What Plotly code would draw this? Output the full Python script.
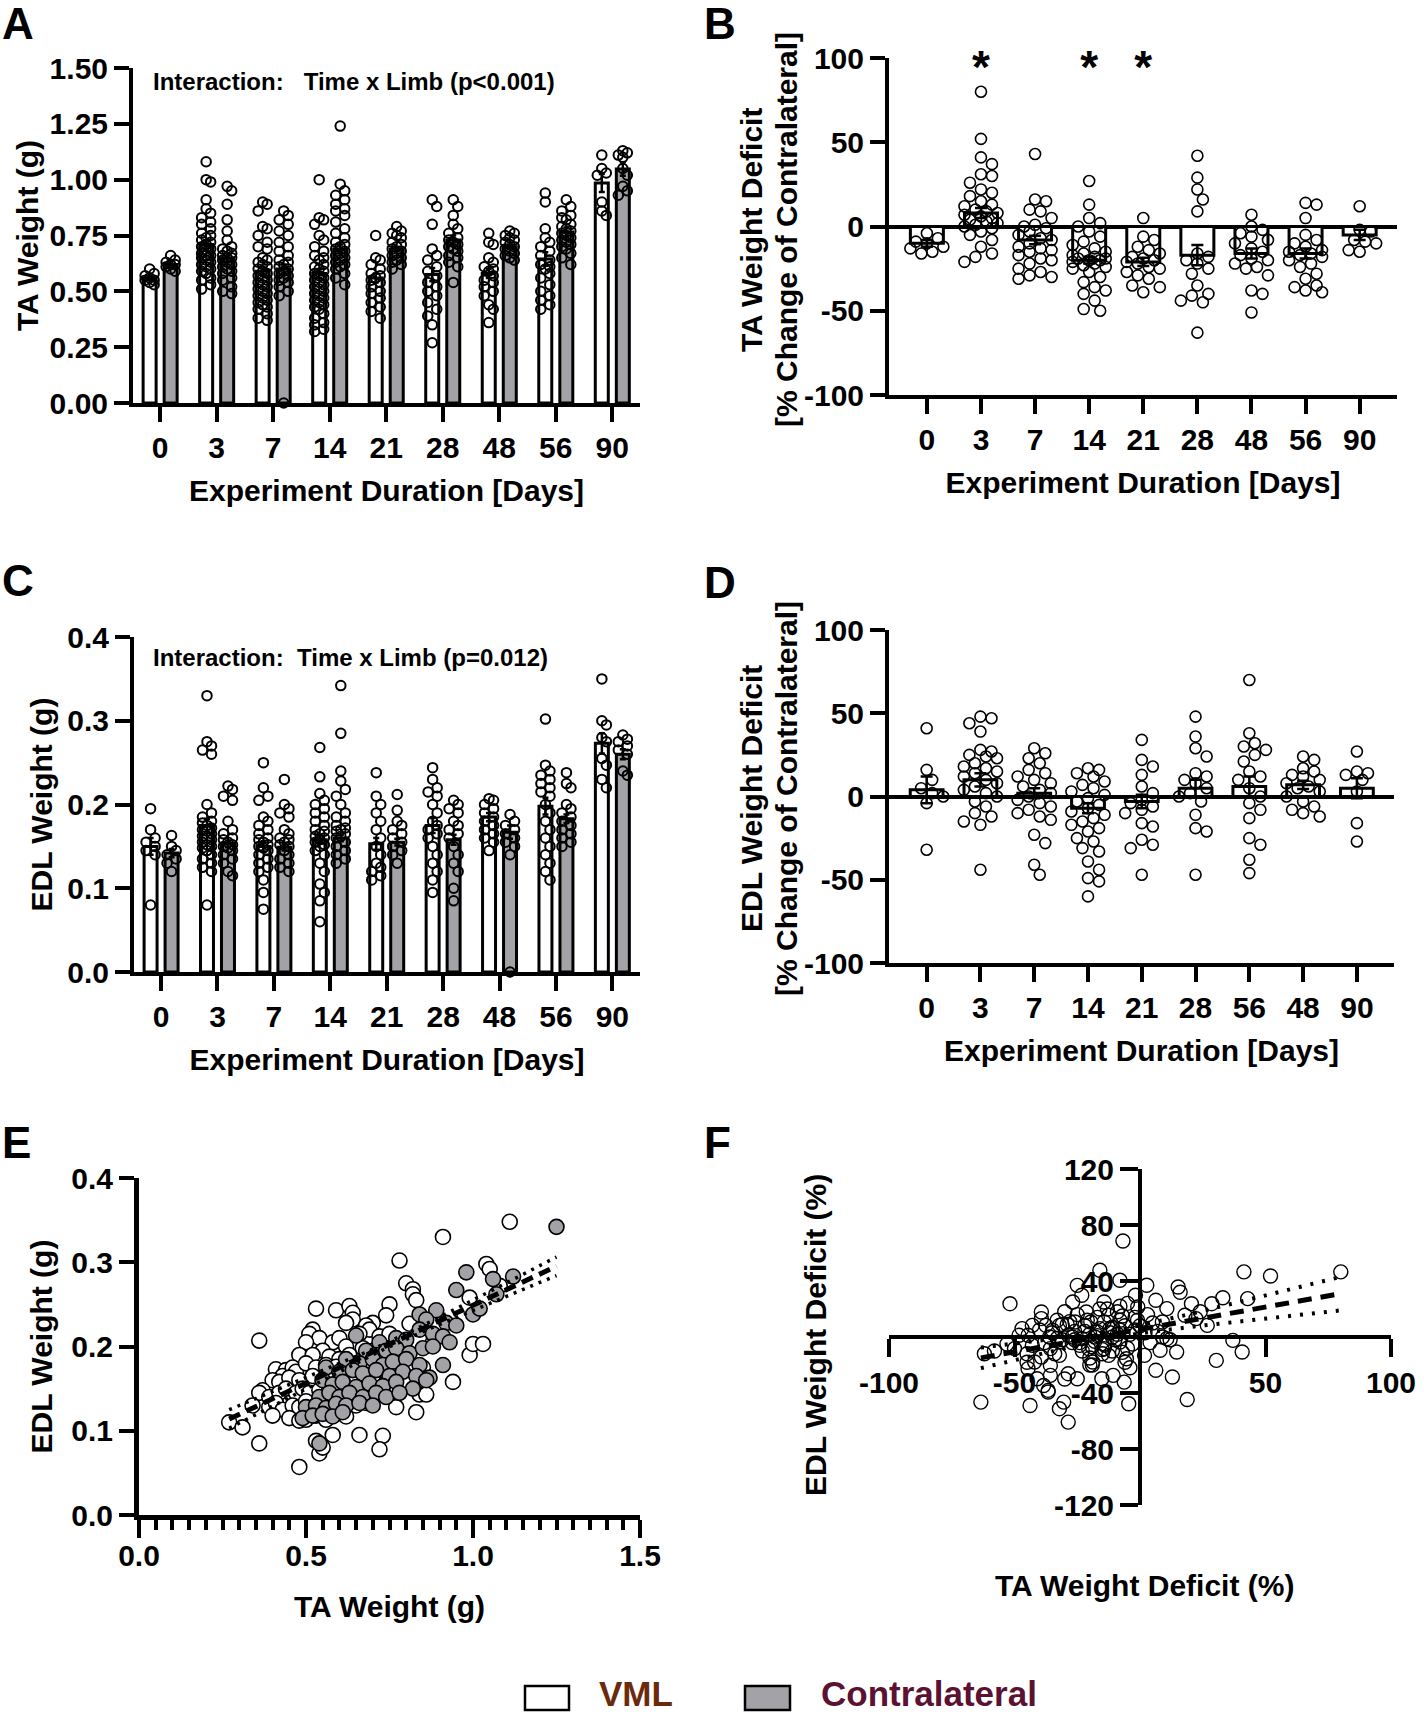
import numpy as np
import plotly.graph_objects as go

W, H = 1424, 1716
FONT = "Liberation Sans, Arial, Helvetica, sans-serif"
GRAY = "#A3A3A7"

# ---------------- data ----------------
DAYS = ["0", "3", "7", "14", "21", "28", "48", "56", "90"]
DAYS_D = ["0", "3", "7", "14", "21", "28", "56", "48", "90"]

# Panel A: TA weight (g)
TA_VML_MEAN = [0.56, 0.71, 0.59, 0.58, 0.56, 0.575, 0.58, 0.645, 0.985]
TA_CON_MEAN = [0.62, 0.65, 0.60, 0.69, 0.69, 0.73, 0.70, 0.766, 1.048]
TA_VML_SEM = [0.01, 0.02, 0.02, 0.02, 0.02, 0.03, 0.02, 0.03, 0.04]
TA_CON_SEM = [0.01, 0.02, 0.02, 0.02, 0.01, 0.02, 0.01, 0.02, 0.03]
TA_VML_PTS = [
    [0.60, 0.58, 0.57, 0.56, 0.55, 0.55, 0.54, 0.53],
    [1.08, 1.00, 0.99, 0.91, 0.87, 0.85, 0.83, 0.81, 0.80, 0.78, 0.76, 0.75, 0.74, 0.73, 0.72, 0.71, 0.70,
     0.69, 0.68, 0.67, 0.66, 0.66, 0.65, 0.64, 0.63, 0.62, 0.61, 0.60, 0.59, 0.58, 0.56, 0.55, 0.53, 0.51],
    [0.90, 0.89, 0.86, 0.79, 0.78, 0.75, 0.72, 0.70, 0.69, 0.65, 0.64, 0.63, 0.62, 0.61, 0.60, 0.59, 0.58,
     0.57, 0.56, 0.55, 0.54, 0.53, 0.52, 0.51, 0.50, 0.49, 0.48, 0.47, 0.46, 0.45, 0.44, 0.43, 0.42, 0.40,
     0.38, 0.37],
    [1.00, 0.83, 0.82, 0.80, 0.75, 0.73, 0.70, 0.68, 0.66, 0.65, 0.64, 0.62, 0.61, 0.60, 0.59, 0.58, 0.57,
     0.56, 0.55, 0.54, 0.53, 0.52, 0.51, 0.50, 0.49, 0.48, 0.47, 0.46, 0.45, 0.44, 0.43, 0.42, 0.40, 0.38,
     0.36, 0.35, 0.33, 0.32],
    [0.75, 0.65, 0.64, 0.62, 0.60, 0.58, 0.57, 0.56, 0.55, 0.54, 0.52, 0.50, 0.49, 0.47, 0.45, 0.43, 0.41, 0.38],
    [0.91, 0.88, 0.80, 0.69, 0.66, 0.64, 0.61, 0.59, 0.57, 0.54, 0.52, 0.50, 0.48, 0.45, 0.42, 0.39, 0.35, 0.27],
    [0.76, 0.72, 0.71, 0.65, 0.63, 0.61, 0.60, 0.59, 0.57, 0.55, 0.54, 0.52, 0.50, 0.48, 0.44, 0.42, 0.36],
    [0.94, 0.90, 0.78, 0.74, 0.72, 0.70, 0.68, 0.66, 0.64, 0.62, 0.61, 0.60, 0.58, 0.56, 0.53, 0.50, 0.48,
     0.46, 0.44, 0.42],
    [1.11, 1.05, 1.03, 1.02, 0.90, 0.86, 0.84],
]
TA_CON_PTS = [
    [0.66, 0.64, 0.63, 0.62, 0.62, 0.61, 0.60, 0.59],
    [0.97, 0.95, 0.89, 0.82, 0.77, 0.73, 0.70, 0.69, 0.68, 0.67, 0.66, 0.65, 0.65, 0.64, 0.63, 0.62, 0.61,
     0.60, 0.59, 0.58, 0.56, 0.55, 0.52, 0.50, 0.49],
    [0.86, 0.84, 0.82, 0.80, 0.77, 0.75, 0.72, 0.70, 0.68, 0.66, 0.64, 0.63, 0.62, 0.61, 0.60, 0.59, 0.58,
     0.57, 0.56, 0.55, 0.54, 0.52, 0.50, 0.48, 0.00],
    [1.24, 0.98, 0.95, 0.93, 0.91, 0.89, 0.87, 0.86, 0.84, 0.81, 0.78, 0.76, 0.74, 0.72, 0.71, 0.70, 0.69,
     0.68, 0.67, 0.66, 0.65, 0.64, 0.63, 0.62, 0.61, 0.60, 0.58, 0.56, 0.53],
    [0.79, 0.77, 0.76, 0.75, 0.74, 0.72, 0.71, 0.70, 0.69, 0.68, 0.67, 0.66, 0.65, 0.64, 0.63, 0.62, 0.60],
    [0.91, 0.88, 0.84, 0.80, 0.78, 0.76, 0.74, 0.73, 0.72, 0.71, 0.70, 0.69, 0.68, 0.66, 0.65, 0.63, 0.61, 0.54],
    [0.77, 0.76, 0.75, 0.74, 0.73, 0.72, 0.71, 0.70, 0.69, 0.68, 0.67, 0.66, 0.65, 0.64],
    [0.91, 0.88, 0.86, 0.84, 0.83, 0.82, 0.80, 0.79, 0.78, 0.77, 0.76, 0.75, 0.74, 0.73, 0.72, 0.71, 0.70,
     0.69, 0.67, 0.65, 0.62],
    [1.13, 1.12, 1.11, 1.10, 1.05, 1.02, 0.97, 0.95, 0.93],
]

# Panel B: TA weight deficit (%)
TA_DEF_MEAN = [-10, 8, -8, -20, -21, -17, -16, -16, -5]
TA_DEF_SEM = [2, 3, 2.5, 2, 2.5, 6, 3, 3, 3]
TA_DEF_PTS = [
    [-4, -7, -9, -10, -12, -13, -15, -16],
    [80, 52, 41, 37, 31, 30, 26, 22, 20, 18, 15, 13, 12, 10, 9, 8, 7, 6, 5, 4, 3, 2, 1, 0, -1, -3, -5, -8,
     -12, -16, -18, -21],
    [43, 16, 15, 10, 9, 5, 1, 0, -1, -3, -5, -7, -8, -10, -12, -13, -14, -15, -17, -19, -20, -22, -25, -27,
     -29, -30, -31],
    [27, 13, 5, 2, 0, -3, -6, -9, -11, -13, -15, -16, -17, -18, -19, -19, -20, -20, -21, -22, -23, -24, -25,
     -27, -30, -33, -36, -38, -40, -44, -49, -50],
    [5, -6, -8, -12, -14, -16, -18, -19, -20, -21, -22, -24, -25, -27, -29, -31, -35, -36, -39],
    [42, 29, 22, 16, 9, -16, -18, -20, -22, -25, -28, -35, -40, -41, -44, -45, -63],
    [7, 0, -2, -4, -6, -8, -10, -13, -15, -17, -19, -20, -22, -24, -25, -29, -38, -40, -51],
    [14, 13, 5, -5, -8, -10, -12, -14, -15, -16, -17, -18, -20, -22, -24, -28, -31, -35, -36, -38, -39],
    [12, -2, -3, -8, -9, -10, -14, -15],
]
TA_SIG_DAYS = ["3", "14", "21"]
TA_SIG_LEVEL = 92

# Panel C: EDL weight (g)
EDL_VML_MEAN = [0.150, 0.175, 0.150, 0.158, 0.153, 0.175, 0.185, 0.198, 0.273]
EDL_CON_MEAN = [0.142, 0.153, 0.149, 0.160, 0.155, 0.158, 0.167, 0.183, 0.260]
EDL_VML_SEM = [0.010, 0.008, 0.006, 0.005, 0.007, 0.009, 0.005, 0.010, 0.012]
EDL_CON_SEM = [0.005, 0.004, 0.004, 0.004, 0.004, 0.006, 0.008, 0.005, 0.006]
EDL_VML_PTS = [
    [0.195, 0.17, 0.16, 0.155, 0.15, 0.145, 0.14, 0.08],
    [0.33, 0.275, 0.27, 0.265, 0.26, 0.20, 0.19, 0.185, 0.18, 0.178, 0.175, 0.172, 0.17, 0.168, 0.165, 0.162,
     0.16, 0.158, 0.155, 0.152, 0.15, 0.148, 0.145, 0.14, 0.135, 0.13, 0.125, 0.12, 0.08],
    [0.25, 0.22, 0.21, 0.205, 0.185, 0.18, 0.175, 0.17, 0.165, 0.16, 0.158, 0.155, 0.152, 0.15, 0.148, 0.145,
     0.14, 0.135, 0.13, 0.125, 0.12, 0.11, 0.095, 0.075],
    [0.268, 0.233, 0.213, 0.205, 0.2, 0.195, 0.19, 0.185, 0.18, 0.175, 0.17, 0.168, 0.165, 0.162, 0.16, 0.158,
     0.155, 0.152, 0.15, 0.145, 0.14, 0.13, 0.12, 0.105, 0.095, 0.085, 0.06],
    [0.238, 0.21, 0.2, 0.19, 0.18, 0.17, 0.16, 0.15, 0.14, 0.13, 0.125, 0.12, 0.115, 0.11],
    [0.244, 0.23, 0.22, 0.215, 0.21, 0.2, 0.19, 0.18, 0.175, 0.17, 0.165, 0.16, 0.15, 0.14, 0.13, 0.12, 0.11,
     0.095],
    [0.207, 0.205, 0.2, 0.195, 0.19, 0.185, 0.18, 0.175, 0.17, 0.165, 0.16, 0.155, 0.145],
    [0.302, 0.247, 0.24, 0.235, 0.23, 0.225, 0.22, 0.215, 0.21, 0.2, 0.19, 0.18, 0.17, 0.16, 0.15, 0.14, 0.13,
     0.12, 0.11],
    [0.35, 0.30, 0.295, 0.28, 0.275, 0.255, 0.247, 0.23, 0.22],
]
EDL_CON_PTS = [
    [0.163, 0.15, 0.145, 0.14, 0.135, 0.13, 0.12],
    [0.222, 0.218, 0.21, 0.205, 0.18, 0.17, 0.165, 0.16, 0.158, 0.155, 0.152, 0.15, 0.148, 0.145, 0.14, 0.135,
     0.13, 0.12, 0.115],
    [0.23, 0.20, 0.195, 0.19, 0.185, 0.17, 0.165, 0.16, 0.158, 0.155, 0.152, 0.15, 0.145, 0.14, 0.135, 0.13,
     0.125, 0.12],
    [0.342, 0.285, 0.24, 0.228, 0.218, 0.21, 0.2, 0.19, 0.185, 0.18, 0.175, 0.172, 0.17, 0.168, 0.165, 0.162,
     0.16, 0.155, 0.15, 0.145, 0.14, 0.135, 0.13],
    [0.212, 0.193, 0.18, 0.175, 0.17, 0.165, 0.16, 0.155, 0.15, 0.145, 0.14, 0.13],
    [0.205, 0.2, 0.195, 0.19, 0.18, 0.175, 0.17, 0.165, 0.16, 0.15, 0.14, 0.13, 0.12, 0.1, 0.085],
    [0.188, 0.18, 0.175, 0.17, 0.165, 0.16, 0.155, 0.15, 0.14, 0.0],
    [0.238, 0.225, 0.22, 0.2, 0.195, 0.19, 0.185, 0.18, 0.175, 0.17, 0.165, 0.16, 0.155, 0.15],
    [0.283, 0.278, 0.275, 0.27, 0.265, 0.26, 0.24, 0.235],
]

# Panel D: EDL weight deficit (%), categories in DAYS_D order
EDL_DEF_MEAN = [4, 10, 2, -7, -3, 5, 6, 7, 5]
EDL_DEF_SEM = [8, 4, 3, 3, 4, 5, 6, 2.5, 6]
EDL_DEF_PTS = [
    [41, 16, 10, 5, 2, 0, -4, -32],
    [48, 47, 44, 39, 28, 27, 25, 24, 23, 20, 18, 17, 15, 14, 12, 10, 8, 6, 4, 2, 0, -3, -6, -10, -12, -15,
     -17, -44],
    [29, 26, 23, 20, 16, 14, 12, 10, 8, 6, 4, 2, 0, -2, -4, -6, -8, -10, -12, -14, -23, -28, -41, -47],
    [17, 16, 14, 12, 9, 7, 5, 3, 1, -1, -3, -5, -7, -9, -11, -13, -15, -17, -19, -21, -25, -27, -31, -33,
     -39, -44, -49, -51, -60],
    [34, 22, 18, 13, 6, 2, -2, -4, -6, -8, -10, -16, -18, -26, -29, -31, -47],
    [48, 36, 29, 24, 14, 12, 10, 8, 5, 2, 0, -3, -11, -19, -21, -47],
    [70, 38, 32, 30, 28, 25, 21, 15, 12, 10, 5, 0, -4, -8, -13, -25, -29, -38, -46],
    [24, 22, 17, 15, 13, 12, 10, 8, 6, 5, 3, 0, -3, -6, -8, -10, -12],
    [27, 15, 14, 13, 10, 3, -16, -27],
]

# Panel E: EDL vs TA weight (g)
E_VML_TA = [1.11, 0.91, 0.78, 1.04, 1.05, 0.80, 1.08, 0.82, 0.82, 0.83, 0.99, 0.75, 0.53, 0.59, 0.63, 0.64,
            0.64, 0.62, 0.74, 0.70, 0.68, 0.69, 0.52, 0.51, 0.54, 0.50, 0.58, 0.60, 0.66, 0.72, 0.75, 0.36,
            0.62, 0.67, 0.70, 0.73, 0.55, 0.48, 0.52, 0.57, 0.60, 0.63, 0.72, 0.76, 0.99, 1.00, 1.03, 0.41,
            0.44, 0.43, 0.46, 0.47, 0.50, 0.53, 0.56, 0.59, 0.62, 0.65, 0.68, 0.71, 0.40, 0.42, 0.45, 0.48,
            0.52, 0.55, 0.58, 0.61, 0.64, 0.67, 0.70, 0.74, 0.85, 0.94, 0.37, 0.36, 0.39, 0.42, 0.44, 0.47,
            0.49, 0.51, 0.54, 0.57, 0.60, 0.63, 0.66, 0.69, 0.73, 0.34, 0.39, 0.41, 0.43, 0.46, 0.48, 0.50,
            0.53, 0.56, 0.59, 0.62, 0.65, 0.68, 0.77, 0.84, 0.83, 0.27, 0.31, 0.40, 0.45, 0.48, 0.50, 0.53,
            0.56, 0.59, 0.62, 0.36, 0.53, 0.58, 0.66, 0.73, 0.72, 0.54, 0.48, 0.55, 0.86, 0.88, 0.81]
E_VML_EDL = [0.348, 0.330, 0.302, 0.298, 0.292, 0.275, 0.272, 0.268, 0.262, 0.255, 0.258, 0.250, 0.245,
             0.243, 0.248, 0.240, 0.232, 0.228, 0.237, 0.228, 0.225, 0.220, 0.220, 0.215, 0.210, 0.205,
             0.205, 0.210, 0.215, 0.212, 0.215, 0.207, 0.200, 0.198, 0.195, 0.195, 0.195, 0.190, 0.190,
             0.188, 0.185, 0.190, 0.190, 0.192, 0.190, 0.203, 0.203, 0.173, 0.172, 0.165, 0.175, 0.170,
             0.180, 0.175, 0.178, 0.176, 0.172, 0.178, 0.182, 0.180, 0.160, 0.158, 0.163, 0.160, 0.165,
             0.160, 0.162, 0.165, 0.160, 0.168, 0.165, 0.170, 0.175, 0.158, 0.148, 0.145, 0.140, 0.145,
             0.150, 0.145, 0.150, 0.145, 0.148, 0.150, 0.150, 0.145, 0.150, 0.148, 0.152, 0.130, 0.128,
             0.133, 0.125, 0.130, 0.128, 0.135, 0.130, 0.132, 0.128, 0.135, 0.130, 0.133, 0.128, 0.143,
             0.122, 0.110, 0.104, 0.118, 0.115, 0.112, 0.113, 0.118, 0.113, 0.120, 0.117, 0.085, 0.088,
             0.095, 0.095, 0.094, 0.078, 0.073, 0.057, 0.080, 0.143, 0.205, 0.227]
E_CON_TA = [1.25, 0.98, 1.06, 1.12, 0.95, 1.07, 0.84, 0.89, 0.86, 0.92, 0.95, 1.00, 1.02, 0.65, 0.72, 0.77,
            0.80, 0.84, 0.88, 0.91, 0.93, 0.68, 0.71, 0.74, 0.77, 0.81, 0.85, 0.88, 0.62, 0.66, 0.70, 0.73,
            0.76, 0.80, 0.84, 0.91, 0.56, 0.60, 0.64, 0.67, 0.71, 0.75, 0.79, 0.83, 0.87, 0.55, 0.58, 0.61,
            0.65, 0.69, 0.73, 0.77, 0.82, 0.86, 0.54, 0.57, 0.60, 0.63, 0.67, 0.71, 0.74, 0.78, 0.50, 0.53,
            0.56, 0.59, 0.62, 0.66, 0.70, 0.49, 0.52, 0.55, 0.58, 0.61, 0.54]
E_CON_EDL = [0.342, 0.288, 0.280, 0.283, 0.267, 0.262, 0.238, 0.243, 0.232, 0.228, 0.225, 0.238, 0.245,
             0.213, 0.205, 0.210, 0.208, 0.220, 0.215, 0.212, 0.205, 0.195, 0.190, 0.195, 0.198, 0.192,
             0.198, 0.200, 0.185, 0.180, 0.185, 0.178, 0.182, 0.185, 0.178, 0.178, 0.175, 0.170, 0.172,
             0.168, 0.172, 0.165, 0.170, 0.165, 0.163, 0.160, 0.155, 0.158, 0.152, 0.156, 0.153, 0.158,
             0.150, 0.160, 0.140, 0.145, 0.140, 0.145, 0.140, 0.145, 0.140, 0.145, 0.128, 0.130, 0.127,
             0.132, 0.130, 0.133, 0.130, 0.115, 0.118, 0.120, 0.117, 0.122, 0.085]
E_FIT = {"intercept": 0.064, "slope": 0.185, "ci_min": 0.003, "ci_end": 0.011}

# Panel F: EDL deficit vs TA deficit (%)
F_TA = [41.4, 52, 80, 42.9, 37, 40.7, 30.4, 18.8, 12.9, 14.6, 15.2, 16, 20.5, 28.6, 26.8, 22.3, 17.9, 10.7,
        6.3, 2.7, -1.8, -0.9, 8.9, 10.7, 8, 6.3, 1.8, -4.5, -6.3, -5.4, -8, -10.7, -8, -6.8, -16, -14.3,
        -12.5, -14.3, -17, -14.3, -15.2, -10.7, -12.5, -18.8, -25, -28.6, -25, -26.8, -23.2, -21.4, -25.9,
        -28.6, -23.2, -19.6, -20.5, -32.1, -35.7, -35.7, -36.6, -30.4, -32.1, -28.6, -36.6, -43.8, -51.8,
        -63.4, -39.3, -39.3, -42.9, -44.6, -37.5, -34.8, -32.1, -32.1, -42.9, -48.2, -50, -35.7, -39.3, -42,
        -44.6, -38.4, -41, -2, -4, -6, -8, -10, -12, -14, -16, -18, -20, -22, -24, -26, -3, -5, -7, -9, -11,
        -13, -15, -17, -19, -21, -23, -25, -27, -29, -31, -33, -1, 0, 2, 4, 5, 7, 9, -6, -8, -30, -34, -36,
        -38, -40, -45, -47, -53, -58, -62, -27, -20, -16, -4, 3, 12, 24, 33, -11, -30, -45,
        -18, -22, -14, -9, -26, -31, -12, -7, -2, -17, -24, -35, -20, -11, -5, -28, -15, -33, -8, -19]
F_EDL = [46.5, 43.6, 46.5, 27.4, -2.4, -10.7, -16.7, -44.6, -28.6, -10.7, 35.7, 32, 23.8, 23.8, 8.3, 13.1,
         15.5, 20.3, 26.2, 37, 29.8, 21.4, 10.7, -1.2, -9.5, -23.8, -13.1, -47.7, -32.2, -15.5, -3.6, 6,
         40.5, 68.6, 47.7, 25, 15.5, 10.7, 3.6, -8.3, -29.8, -27.4, -13.1, -17.9, -29.8, -26.2, 36.9, 25,
         29.8, 17.9, 10.7, 1.2, -1.2, 10.7, -8.3, -13.1, -20.3, -27.4, -38.1, -46.5, -51.2, -60.8, -39.3,
         -48.9, 23.8, -46.5, 17.9, 13.1, 8.3, 1.2, 8.3, 4.8, 8.3, -3.6, -6, 1.2, -8.3, -8.3, -14.3, -17.9,
         -22.6, -34.6, -29.8, 5, 2, 8, 12, -2, 3, -5, 6, -3, 2, 8, -6, 4, -5, -8, 15, 18, -10, 20, -12, 14,
         -7, 12, -10, 16, -4, 9, -2, 12, 12, 8, 3, -4, 10, 4, 0, -18, 22, 18, -12, 0, -4, 5, -12, 6, -5,
         -10, -12, 0, -20, 20, -22, 16, -2, 18, 28, 0, -30, -18,
         0, 4, -6, 2, -2, 9, 6, -11, 14, 1, -4, 3, -15, 7, 24, 11, -9, -1, 5, -20]
F_FIT = {"intercept": 5.4, "slope": 0.32, "ci_min": 2.5, "ci_slope": 0.13, "x_center": -10}

# ---------------- helpers ----------------
def fx(p):
    return p / W


def fy(p):
    return 1 - p / H


def swarm(values, y_ppu, x_ppu, diam, max_half_px):
    """deterministic beeswarm offsets (category units)"""
    order = sorted(range(len(values)), key=lambda i: -values[i])
    placed = []
    offs = [0.0] * len(values)
    step = diam * 0.5
    cands = [0.0]
    k = 1
    while k * step <= max_half_px:
        cands += [k * step, -k * step]
        k += 1
    for i in order:
        yv = values[i] * y_ppu
        chosen = None
        for c in cands:
            if all((c - xp) ** 2 + (yv - yp) ** 2 >= (diam * 0.95) ** 2 for xp, yp in placed):
                chosen = c
                break
        if chosen is None:
            chosen = max(cands, key=lambda c: min((c - xp) ** 2 + (yv - yp) ** 2 for xp, yp in placed))
        placed.append((chosen, yv))
        offs[i] = chosen / x_ppu
    return offs


fig = go.Figure()

axis_common = dict(showline=True, linewidth=4, linecolor="black", ticks="outside", ticklen=15,
                   tickwidth=4, tickcolor="black", showgrid=False, zeroline=False, automargin=False,
                   tickfont=dict(size=30, family=FONT, color="black", weight="bold"),
                   title_font=dict(size=30, family=FONT, color="black", weight="bold"))

# ---------------- grouped bar panels (A, C) ----------------
def grouped_panel(xa, ya, vml_mean, con_mean, vml_sem, con_sem, vml_pts, con_pts, y_ppu, x_ppu):
    n = len(DAYS)
    idx = list(range(n))
    half, bw = 0.186, 0.23
    fig.add_trace(go.Bar(x=idx, y=vml_mean, width=bw, offset=-half - bw / 2, xaxis=xa, yaxis=ya,
                         marker=dict(color="white", line=dict(color="black", width=3)),
                         error_y=dict(type="data", array=vml_sem, color="black", thickness=2.5, width=3),
                         showlegend=False, name="VML"))
    fig.add_trace(go.Bar(x=idx, y=con_mean, width=bw, offset=half - bw / 2, xaxis=xa, yaxis=ya,
                         marker=dict(color=GRAY, line=dict(color="black", width=3)),
                         error_y=dict(type="data", array=con_sem, color="black", thickness=2.5, width=3),
                         showlegend=False, name="Contralateral"))
    for pts, sgn in ((vml_pts, -1), (con_pts, 1)):
        xs, ys = [], []
        for i, vals in enumerate(pts):
            offs = swarm(vals, y_ppu, x_ppu, 9, 6)
            xs += [i + sgn * half + o for o in offs]
            ys += vals
        fig.add_trace(go.Scatter(x=xs, y=ys, mode="markers", xaxis=xa, yaxis=ya, cliponaxis=False,
                                 marker=dict(size=9.5, color="rgba(0,0,0,0)",
                                             line=dict(color="black", width=2)),
                                 showlegend=False, hoverinfo="y"))


grouped_panel("x", "y", TA_VML_MEAN, TA_CON_MEAN, TA_VML_SEM, TA_CON_SEM, TA_VML_PTS, TA_CON_PTS,
              223.3, 56.4)
grouped_panel("x3", "y3", EDL_VML_MEAN, EDL_CON_MEAN, EDL_VML_SEM, EDL_CON_SEM, EDL_VML_PTS, EDL_CON_PTS,
              837.5, 56.2)


# ---------------- deficit panels (B, D) ----------------
def deficit_panel(xa, ya, mean, sem, pts, y_ppu, x_ppu):
    idx = list(range(len(mean)))
    fig.add_trace(go.Bar(x=idx, y=mean, width=0.61, xaxis=xa, yaxis=ya,
                         marker=dict(color="white", line=dict(color="black", width=3)),
                         error_y=dict(type="data", array=sem, color="black", thickness=2.5, width=6),
                         showlegend=False))
    xs, ys = [], []
    for i, vals in enumerate(pts):
        offs = swarm(vals, y_ppu, x_ppu, 11, 19)
        xs += [i + o for o in offs]
        ys += vals
    fig.add_trace(go.Scatter(x=xs, y=ys, mode="markers", xaxis=xa, yaxis=ya, cliponaxis=False,
                             marker=dict(size=11, color="rgba(0,0,0,0)", line=dict(color="black", width=1.6)),
                             showlegend=False, hoverinfo="y"))


deficit_panel("x2", "y2", TA_DEF_MEAN, TA_DEF_SEM, TA_DEF_PTS, 1.685, 54.1)
deficit_panel("x4", "y4", EDL_DEF_MEAN, EDL_DEF_SEM, EDL_DEF_PTS, 1.665, 53.5)
fig.add_trace(go.Scatter(x=[DAYS.index(d) for d in TA_SIG_DAYS], y=[TA_SIG_LEVEL] * len(TA_SIG_DAYS),
                         mode="text", text=["*"] * len(TA_SIG_DAYS), xaxis="x2", yaxis="y2",
                         textposition="middle center", cliponaxis=False,
                         textfont=dict(size=46, family=FONT, color="black", weight="bold"),
                         showlegend=False, hoverinfo="skip"))

# ---------------- panel E ----------------
fig.add_trace(go.Scatter(x=E_VML_TA, y=E_VML_EDL, mode="markers", xaxis="x5", yaxis="y5",
                         marker=dict(size=15, color="white", line=dict(color="black", width=1.6)),
                         showlegend=False))
fig.add_trace(go.Scatter(x=E_CON_TA, y=E_CON_EDL, mode="markers", xaxis="x5", yaxis="y5",
                         marker=dict(size=15, color=GRAY, line=dict(color="black", width=1.6)),
                         showlegend=False))
ex = np.linspace(min(E_VML_TA + E_CON_TA), max(E_VML_TA + E_CON_TA), 60)
e_mid = (ex[0] + ex[-1]) / 2
e_k = np.sqrt(E_FIT["ci_end"] ** 2 - E_FIT["ci_min"] ** 2) / (ex[-1] - e_mid)
e_line = E_FIT["intercept"] + E_FIT["slope"] * ex
e_hw = np.sqrt(E_FIT["ci_min"] ** 2 + (e_k * (ex - e_mid)) ** 2)
for yy, dash, wd in ((e_line + e_hw, "3px,6px", 3.5), (e_line - e_hw, "3px,6px", 3.5),
                     (e_line, "12px,7px", 5)):
    fig.add_trace(go.Scatter(x=ex, y=yy, mode="lines", xaxis="x5", yaxis="y5",
                             line=dict(color="black", width=wd, dash=dash), showlegend=False,
                             hoverinfo="skip"))

# ---------------- panel F ----------------
fig.add_trace(go.Scatter(x=F_TA, y=F_EDL, mode="markers", xaxis="x6", yaxis="y6", cliponaxis=False,
                         marker=dict(size=14, color="rgba(0,0,0,0)", line=dict(color="black", width=1.4)),
                         showlegend=False))
fxs = np.linspace(min(F_TA), max(F_TA), 60)
f_line = F_FIT["intercept"] + F_FIT["slope"] * fxs
f_hw = np.sqrt(F_FIT["ci_min"] ** 2 + (F_FIT["ci_slope"] * (fxs - F_FIT["x_center"])) ** 2)
for yy, dash, wd in ((f_line + f_hw, "3px,9px", 4), (f_line - f_hw, "3px,9px", 4),
                     (f_line, "14px,9px", 5)):
    fig.add_trace(go.Scatter(x=fxs, y=yy, mode="lines", xaxis="x6", yaxis="y6",
                             line=dict(color="black", width=wd, dash=dash), showlegend=False,
                             hoverinfo="skip"))

# ---------------- layout ----------------
cat_ticks = dict(tickmode="array", tickvals=list(range(9)))

fig.update_layout(
    width=W, height=H, margin=dict(l=0, r=0, t=0, b=0, autoexpand=False), plot_bgcolor="white",
    paper_bgcolor="white",
    font=dict(family=FONT, size=30, color="black", weight="bold"), barmode="overlay", showlegend=False,
    # A
    xaxis=dict(axis_common, domain=[fx(133), fx(640)], range=[-0.48, 8.49], anchor="y", ticktext=DAYS,
               title=dict(text="Experiment Duration [Days]", standoff=18), **cat_ticks),
    yaxis=dict(axis_common, domain=[fy(403), fy(68)], range=[0, 1.5], anchor="x",
               tickvals=[0, 0.25, 0.5, 0.75, 1.0, 1.25, 1.5], tickformat=".2f",
               title=dict(text="TA Weight (g)", standoff=3)),
    # B
    xaxis2=dict(axis_common, domain=[fx(889), fx(1397)], range=[-0.7, 8.69], anchor="y2", ticktext=DAYS,
                title=dict(text="Experiment Duration [Days]", standoff=18), **cat_ticks),
    yaxis2=dict(axis_common, domain=[fy(395), fy(58)], range=[-100, 100], anchor="x2",
                tickvals=[-100, -50, 0, 50, 100], ticktext=["-100", "-50", "0", "50", "100"],
                zeroline=True, zerolinewidth=4, zerolinecolor="black"),
    # C
    xaxis3=dict(axis_common, domain=[fx(134), fx(640)], range=[-0.48, 8.49], anchor="y3", ticktext=DAYS,
                title=dict(text="Experiment Duration [Days]", standoff=18), **cat_ticks),
    yaxis3=dict(axis_common, domain=[fy(972), fy(637)], range=[0, 0.4], anchor="x3",
                tickvals=[0, 0.1, 0.2, 0.3, 0.4], tickformat=".1f",
                title=dict(text="EDL Weight (g)", standoff=7)),
    # D
    xaxis4=dict(axis_common, domain=[fx(889), fx(1394)], range=[-0.7, 8.69], anchor="y4", ticktext=DAYS_D,
                title=dict(text="Experiment Duration [Days]", standoff=18), **cat_ticks),
    yaxis4=dict(axis_common, domain=[fy(963), fy(630)], range=[-100, 100], anchor="x4",
                tickvals=[-100, -50, 0, 50, 100], ticktext=["-100", "-50", "0", "50", "100"],
                zeroline=True, zerolinewidth=4, zerolinecolor="black"),
    # E
    xaxis5=dict(axis_common, domain=[fx(139), fx(640)], range=[0, 1.5], anchor="y5", linewidth=5,
                tickvals=[0, 0.5, 1.0, 1.5], tickformat=".1f", ticklen=18, ticklabelstandoff=-8,
                minor=dict(dtick=0.05, ticks="outside", ticklen=10, tickwidth=4, tickcolor="black"),
                title=dict(text="TA Weight (g)", standoff=26)),
    yaxis5=dict(axis_common, domain=[fy(1515), fy(1178)], range=[0, 0.4], anchor="x5", linewidth=5,
                tickvals=[0, 0.1, 0.2, 0.3, 0.4], tickformat=".1f",
                title=dict(text="EDL Weight (g)", standoff=11)),
    # F
    xaxis6=dict(axis_common, domain=[fx(889), fx(1391)], range=[-100, 100], anchor="free",
                position=(fy(1505) + fy(1169)) / 2, ticklen=18,
                tickvals=[-100, -50, 50, 100], ticktext=["-100", "-50", "50", "100"]),
    yaxis6=dict(axis_common, domain=[fy(1505), fy(1169)], range=[-120, 120], anchor="free",
                position=(fx(889) + fx(1391)) / 2, ticklen=18,
                tickvals=[-120, -80, -40, 40, 80, 120], ticktext=["-120", "-80", "-40", "40", "80", "120"]),
)

TXT = dict(family=FONT, color="black", weight="bold")


def ann(text, x, y, size, xanchor="center", yanchor="middle", angle=0, color="black"):
    return dict(text=text, x=fx(x), y=fy(y), xref="paper", yref="paper", xanchor=xanchor,
                yanchor=yanchor, textangle=angle, showarrow=False,
                font=dict(size=size, family=FONT, color=color, weight="bold"))


annots = []
for letter, x, y in (("A", 0, 24), ("B", 702, 24), ("C", 0, 580), ("D", 702, 582), ("E", 0, 1142),
                     ("F", 702, 1142)):
    annots.append(ann(letter, x, y, 44, xanchor="left"))
annots.append(ann("Interaction:   Time x Limb (p<0.001)", 151, 82, 24, xanchor="left"))
annots.append(ann("Interaction:  Time x Limb (p=0.012)", 151, 658, 24, xanchor="left"))
# two-line rotated y titles for B and D
annots.append(ann("TA Weight Deficit", 751, 230, 30, angle=-90))
annots.append(ann("[% Change of Contralateral]", 786, 230, 30, angle=-90))
annots.append(ann("EDL Weight Deficit", 751, 799, 30, angle=-90))
annots.append(ann("[% Change of Contralateral]", 786, 799, 30, angle=-90))
# F titles
annots.append(ann("EDL Weight Deficit (%)", 815, 1335, 30, angle=-90))
annots.append(ann("TA Weight Deficit (%)", 1144, 1585, 30))
# legend
annots.append(ann("VML", 597, 1715, 35, xanchor="left", yanchor="bottom", color="#6B2A0E"))
annots.append(ann("Contralateral", 819, 1715, 35, xanchor="left", yanchor="bottom", color="#5B1232"))
fig.update_layout(annotations=annots)

fig.add_shape(type="rect", xref="paper", yref="paper", x0=fx(525), x1=fx(569), y0=fy(1710), y1=fy(1686),
              line=dict(color="black", width=2.5), fillcolor="white")
fig.add_shape(type="rect", xref="paper", yref="paper", x0=fx(745), x1=fx(790), y0=fy(1710), y1=fy(1686),
              line=dict(color="black", width=2.5), fillcolor=GRAY)

fig.write_html("out.html", config={"displayModeBar": False},
               post_script="document.body.style.margin='0';document.body.style.overflow='hidden';")
